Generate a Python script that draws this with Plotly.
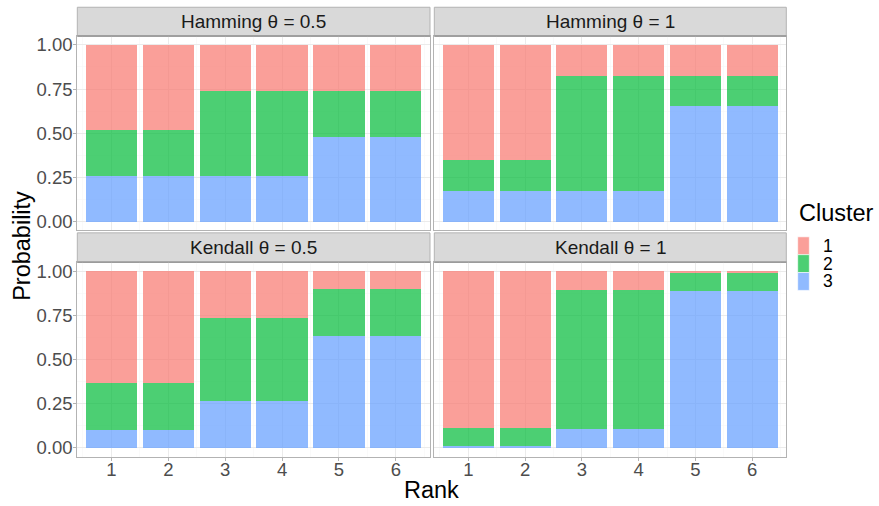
import plotly.graph_objects as go

# ---------------- data ----------------
ranks = [1, 2, 3, 4, 5, 6]
clusters = ["1", "2", "3"]
panels = ["Hamming θ = 0.5", "Hamming θ = 1", "Kendall θ = 0.5", "Kendall θ = 1"]

# probabilities per panel, per cluster, per rank
ham05_c1 = [0.48, 0.48, 0.26, 0.26, 0.26, 0.26]
ham05_c2 = [0.26, 0.26, 0.48, 0.48, 0.26, 0.26]
ham05_c3 = [0.26, 0.26, 0.26, 0.26, 0.48, 0.48]

ham1_c1 = [0.652, 0.652, 0.174, 0.174, 0.174, 0.174]
ham1_c2 = [0.174, 0.174, 0.652, 0.652, 0.174, 0.174]
ham1_c3 = [0.174, 0.174, 0.174, 0.174, 0.652, 0.652]

ken05_c1 = [0.633, 0.633, 0.267, 0.267, 0.10, 0.10]
ken05_c2 = [0.267, 0.267, 0.466, 0.466, 0.267, 0.267]
ken05_c3 = [0.10, 0.10, 0.267, 0.267, 0.633, 0.633]

ken1_c1 = [0.885, 0.885, 0.105, 0.105, 0.01, 0.01]
ken1_c2 = [0.105, 0.105, 0.79, 0.79, 0.105, 0.105]
ken1_c3 = [0.01, 0.01, 0.105, 0.105, 0.885, 0.885]

y_ticks = [0, 0.25, 0.5, 0.75, 1.0]
y_ticklabels = ["0.00", "0.25", "0.50", "0.75", "1.00"]

# ---------------- styling ----------------
W, H = 879, 506
FONT = "Liberation Sans, Arial, Helvetica, sans-serif"
fills = {"1": "rgba(248,118,109,0.7)", "2": "rgba(0,186,56,0.7)", "3": "rgba(97,156,255,0.7)"}
BORDER = "#B3B3B3"


def px_x(p):
    return p / W


def px_y(p):
    return 1 - p / H


xdom = [(77.3, 430.0), (434.3, 786.3)]
ydom = [(34.3, 230.3), (262.3, 458.3)]
strip_y = [(5.3, 34.3), (232.7, 262.3)]

panel_data = [
    (ham05_c1, ham05_c2, ham05_c3),
    (ham1_c1, ham1_c2, ham1_c3),
    (ken05_c1, ken05_c2, ken05_c3),
    (ken1_c1, ken1_c2, ken1_c3),
]

fig = go.Figure()
layout = {}
shapes = []
annotations = []

for i, (c1, c2, c3) in enumerate(panel_data):
    r, c = divmod(i, 2)
    idx = "" if i == 0 else str(i + 1)
    xa, ya = "x" + idx, "y" + idx
    for name, vals in (("3", c3), ("2", c2), ("1", c1)):
        fig.add_trace(go.Bar(x=ranks, y=vals, name=name, marker=dict(color=fills[name], line=dict(width=0)),
                             xaxis=xa, yaxis=ya, showlegend=False, width=0.9, hoverinfo="skip"))
    x0, x1 = xdom[c]
    y0, y1 = ydom[r]
    layout["xaxis" + idx] = dict(
        domain=[px_x(x0), px_x(x1)], anchor=ya, range=[0.4, 6.6],
        tickvals=ranks, ticktext=[str(v) for v in ranks],
        showticklabels=(r == 1), ticks="outside" if r == 1 else "", ticklen=3, tickcolor=BORDER,
        ticklabelstandoff=-7,
        tickfont=dict(family=FONT, size=18.5, color="#4D4D4D"),
        showgrid=True, gridcolor="#EBEBEB", gridwidth=1,
        minor=dict(showgrid=True, gridcolor="#F5F5F5", gridwidth=0.5, dtick=0.5, tick0=0.5),
        showline=True, mirror=True, linecolor=BORDER, linewidth=1, zeroline=False, fixedrange=True,
    )
    layout["yaxis" + idx] = dict(
        domain=[px_y(y1), px_y(y0)], anchor=xa, range=[-0.05, 1.05],
        tickvals=y_ticks, ticktext=y_ticklabels,
        showticklabels=(c == 0), ticks="outside" if c == 0 else "", ticklen=3, tickcolor=BORDER,
        ticklabelstandoff=-3,
        tickfont=dict(family=FONT, size=18.5, color="#4D4D4D"),
        showgrid=True, gridcolor="#EBEBEB", gridwidth=1,
        minor=dict(showgrid=True, gridcolor="#F5F5F5", gridwidth=0.5, tickvals=[0.125, 0.375, 0.625, 0.875]),
        showline=True, mirror=True, linecolor=BORDER, linewidth=1, zeroline=False, fixedrange=True,
    )
    # strip
    sy0, sy1 = strip_y[r]
    shapes.append(dict(type="rect", xref="paper", yref="paper",
                       x0=px_x(x0), x1=px_x(x1), y0=px_y(sy1), y1=px_y(sy0),
                       fillcolor="#D9D9D9", line=dict(color=BORDER, width=1), layer="below"))
    shapes.append(dict(type="line", xref="paper", yref="paper",
                       x0=px_x(x0), x1=px_x(x1), y0=px_y(sy1), y1=px_y(sy1),
                       line=dict(color="#8C8C8C", width=1.2)))
    annotations.append(dict(text=panels[i], xref="paper", yref="paper",
                            x=px_x((x0 + x1) / 2), y=px_y((sy0 + sy1) / 2),
                            xanchor="center", yanchor="middle", showarrow=False,
                            font=dict(family=FONT, size=19, color="#1A1A1A")))

# axis titles
annotations.append(dict(text="Rank", xref="paper", yref="paper", x=px_x(431.8), y=px_y(491.5),
                        xanchor="center", yanchor="middle", showarrow=False,
                        font=dict(family=FONT, size=23.5, color="#000000")))
annotations.append(dict(text="Probability", xref="paper", yref="paper", x=px_x(22.5), y=px_y(246.3),
                        xanchor="center", yanchor="middle", showarrow=False, textangle=-90,
                        font=dict(family=FONT, size=23.5, color="#000000")))

# legend (drawn manually)
annotations.append(dict(text="Cluster", xref="paper", yref="paper", x=px_x(797), y=px_y(213),
                        xanchor="left", yanchor="middle", showarrow=False,
                        font=dict(family=FONT, size=23.5, color="#000000")))
key_top = 236.7
key_h = 18.0
for k, name in enumerate(clusters):
    ky0 = key_top + k * key_h
    shapes.append(dict(type="rect", xref="paper", yref="paper",
                       x0=px_x(797.7), x1=px_x(809.3), y0=px_y(ky0 + key_h), y1=px_y(ky0),
                       fillcolor=fills[name], line=dict(color="white", width=0.6)))
    annotations.append(dict(text=name, xref="paper", yref="paper", x=px_x(820.5), y=px_y(ky0 + key_h / 2),
                            xanchor="left", yanchor="middle", showarrow=False,
                            font=dict(family=FONT, size=17.5, color="#000000")))

fig.update_layout(
    width=W, height=H, margin=dict(l=0, r=0, t=0, b=0),
    paper_bgcolor="white", plot_bgcolor="white",
    barmode="stack", bargap=0.1, hovermode=False,
    shapes=shapes, annotations=annotations, showlegend=False,
    **layout,
)

fig.write_html("out.html", config={"displayModeBar": False, "staticPlot": True},
               post_script="document.body.style.margin='0px';document.body.style.overflow='hidden';")
